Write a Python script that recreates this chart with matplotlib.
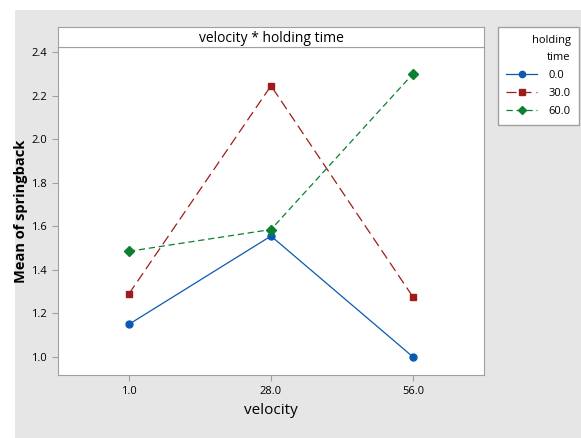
import numpy as np
import matplotlib.pyplot as plt
from matplotlib.patches import Rectangle

plt.rcParams['font.family'] = ['Open Sans', 'DejaVu Sans']

velocity = ['1.0', '28.0', '56.0']
holding = ['0.0', '30.0', '60.0']
mean_0 = [1.15, 1.555, 1.0]
mean_30 = [1.29, 2.245, 1.275]
mean_60 = [1.485, 1.585, 2.30]
yticks = [1.0, 1.2, 1.4, 1.6, 1.8, 2.0, 2.2, 2.4]

W, H = 581, 438
fig = plt.figure(figsize=(W / 100, H / 100), dpi=100)
fig.patch.set_facecolor('white')
# gray panel behind everything
fig.patches.append(Rectangle((15 / W, 0), 1 - 15 / W, 1 - 10 / H,
                             transform=fig.transFigure, facecolor='#e6e6e6',
                             edgecolor='none', zorder=-10))

frame = '#a0a0a0'
ax = fig.add_axes([58 / W, 1 - 375 / H, (484 - 58) / W, (375 - 47) / H])
hdr = fig.add_axes([58 / W, 1 - 47 / H, (484 - 58) / W, 20 / H])

x = np.arange(len(velocity))
ax.plot(x, mean_0, color='#0a5bb0', lw=0.9, marker='o', ms=5, label=holding[0])
ax.plot(x, mean_30, color='#9e1c1c', lw=0.9, ls=(0, (8, 4)), marker='s', ms=5,
        label=holding[1])
ax.plot(x, mean_60, color='#0a8030', lw=0.9, ls=(0, (5, 3)), marker='D', ms=5,
        label=holding[2])

ax.set_xlim(-0.5, 2.5)
ax.set_ylim(0.917, 2.423)
ax.set_xticks(x)
ax.set_xticklabels(velocity)
ax.set_yticks(yticks)
ax.set_yticklabels([f'{v:.1f}' for v in yticks])
ax.tick_params(labelsize=8, color=frame, length=4, pad=4)
ax.set_xlabel('velocity', fontsize=11, labelpad=4)
ax.set_ylabel('Mean of springback', fontsize=10.5, fontweight='bold', labelpad=2)
for s in ax.spines.values():
    s.set_color(frame)

hdr.set_xticks([])
hdr.set_yticks([])
for s in hdr.spines.values():
    s.set_color(frame)
hdr.text(0.5, 0.45, 'velocity * holding time', ha='center', va='center', fontsize=10)

handles, labels = ax.get_legend_handles_labels()
leg = fig.legend(handles, labels, title='holding\ntime', loc='upper left',
                 bbox_to_anchor=(498 / W, 1 - 27 / H), fontsize=8,
                 title_fontsize=8, alignment='right', handlelength=2.8,
                 fancybox=False, edgecolor=frame, framealpha=1,
                 borderpad=0.75, labelspacing=0.62, handletextpad=1.0,
                 borderaxespad=0, markerscale=0.9)
leg.get_title().set_ha('right')
leg.get_title().set_linespacing(1.7)

fig.savefig('out.png', dpi=100)
